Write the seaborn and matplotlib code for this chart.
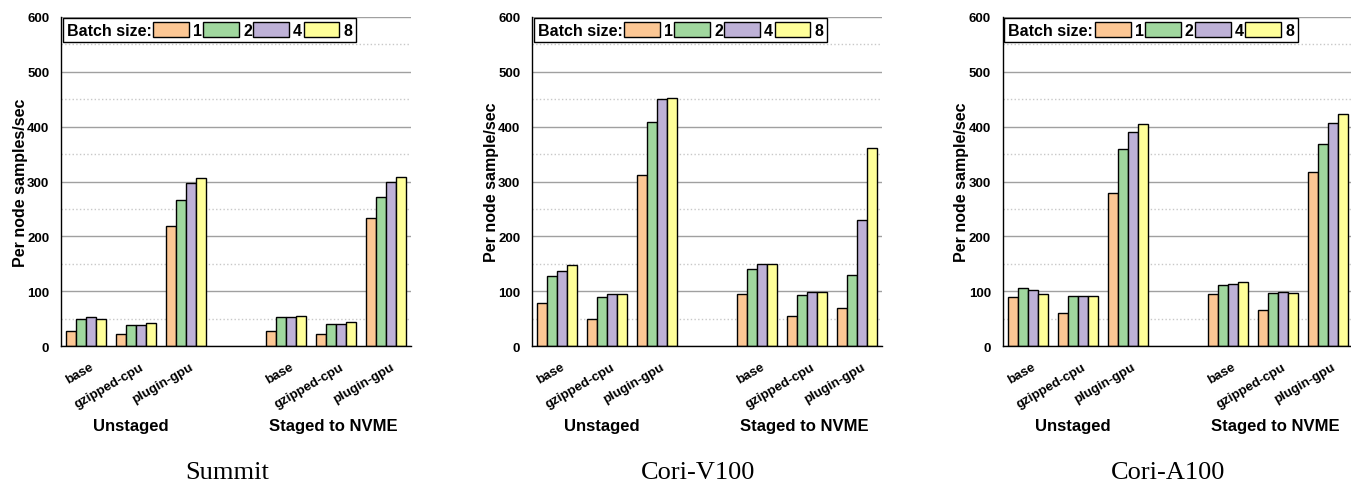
import numpy as np
import pandas as pd
import matplotlib
matplotlib.use('Agg')
import matplotlib.pyplot as plt
import seaborn as sns
from matplotlib.patches import Patch
from matplotlib.offsetbox import HPacker
from matplotlib.transforms import ScaledTranslation, blended_transform_factory
from matplotlib.ticker import MultipleLocator, FixedLocator

# ---------------- data ----------------
systems = ['Summit', 'Cori-V100', 'Cori-A100']
ylabels = ['Per node samples/sec', 'Per node sample/sec', 'Per node sample/sec']
methods = ['base', 'gzipped-cpu', 'plugin-gpu']
stagings = ['Unstaged', 'Staged to NVME']
batch_sizes = ['1', '2', '4', '8']
colors = ['#FCC794', '#A0D79E', '#BEB1D7', '#FFFF99']

# rows: method (base, gzipped-cpu, plugin-gpu); columns: batch size 1,2,4,8
summit_unstaged = [[27, 50, 52, 50], [21, 39, 39, 42], [219, 267, 297, 306]]
summit_staged = [[28, 52, 53, 54], [21, 40, 41, 43], [233, 272, 299, 308]]
v100_unstaged = [[78, 128, 137, 148], [50, 89, 94, 95], [311, 409, 450, 452]]
v100_staged = [[94, 140, 150, 150], [55, 93, 98, 99], [69, 129, 230, 362]]
a100_unstaged = [[90, 105, 103, 94], [61, 91, 91, 92], [279, 360, 390, 405]]
a100_staged = [[94, 112, 113, 116], [65, 96, 98, 97], [317, 369, 407, 424]]

panel_data = [
    (summit_unstaged, summit_staged),
    (v100_unstaged, v100_staged),
    (a100_unstaged, a100_staged),
]

# ---------------- style ----------------
sns.set_theme(style='white')
plt.rcParams['font.family'] = ['Liberation Sans', 'DejaVu Sans']
plt.rcParams['axes.linewidth'] = 1.0
for k in ('text.color', 'axes.labelcolor', 'xtick.color', 'ytick.color'):
    plt.rcParams[k] = 'black'

W, H = 1351, 485
fig = plt.figure(figsize=(W / 100, H / 100), dpi=100)

ax_lefts = [61, 532, 1002.7]
ax_width = 350.3
ax_bottom_px, ax_top_px = 347, 18
sub_x = [227, 698, 1168]

gap_slot = 'gap'
order = [f'{stagings[0]}|{m}' for m in methods] + [gap_slot] + [f'{stagings[1]}|{m}' for m in methods]
tick_labels = methods + [''] + methods

for i, (sysname, (unst, stg)) in enumerate(zip(systems, panel_data)):
    ax = fig.add_axes([ax_lefts[i] / W, (H - ax_bottom_px) / H, ax_width / W,
                       (ax_bottom_px - ax_top_px) / H])
    rows = []
    for staging, vals in zip(stagings, (unst, stg)):
        for m, mvals in zip(methods, vals):
            for b, v in zip(batch_sizes, mvals):
                rows.append({'slot': f'{staging}|{m}', 'batch': b, 'value': v})
    df = pd.DataFrame(rows)

    sns.barplot(data=df, x='slot', y='value', hue='batch', order=order,
                hue_order=batch_sizes, palette=colors, saturation=1,
                edgecolor='black', linewidth=1.0, width=0.8, ax=ax,
                legend=False, errorbar=None)

    ax.set_xlim(-0.5, 6.5)
    ax.set_ylim(0, 600)
    ax.yaxis.set_major_locator(MultipleLocator(100))
    ax.yaxis.set_minor_locator(MultipleLocator(50))
    ax.xaxis.set_major_locator(FixedLocator(range(7)))
    ax.xaxis.set_minor_locator(FixedLocator([k - 0.5 for k in range(8)]))

    ax.grid(which='major', axis='y', color='#A0A0A0', lw=1.0, ls='-')
    ax.grid(which='minor', axis='y', color='#C8C8C8', lw=1.0, ls=':')
    ax.grid(which='both', axis='x', visible=False)
    ax.set_axisbelow(True)

    for s in ('top', 'right'):
        ax.spines[s].set_visible(False)
    for s in ('left', 'bottom'):
        ax.spines[s].set_color('black')
        ax.spines[s].set_linewidth(1.0)

    ax.tick_params(axis='both', which='major', direction='out', length=4.5,
                   width=1, color='black')
    ax.tick_params(axis='both', which='minor', direction='out', length=2.5,
                   width=1, color='black')
    ax.tick_params(axis='y', which='major', labelsize=9.5, pad=4)
    ax.tick_params(axis='x', which='major', pad=6)

    for lab in ax.get_yticklabels():
        lab.set_fontweight('bold')

    ax.set_xticks(range(7))
    ax.set_xticklabels(tick_labels, rotation=30, ha='right', va='top',
                       rotation_mode='anchor', fontsize=9.5, fontweight='bold')
    for lab in ax.get_xticklabels():
        lab.set_transform(lab.get_transform() + ScaledTranslation(0.035, 0, fig.dpi_scale_trans))

    ax.set_xlabel('')
    ax.set_ylabel(ylabels[i], fontsize=11.5, fontweight='bold', labelpad=-0.5)

    trans = blended_transform_factory(ax.transData, ax.transAxes)
    gy = (ax_bottom_px - 426) / (ax_bottom_px - ax_top_px)
    ax.text(0.9, gy, stagings[0], transform=trans, ha='center', va='center',
            fontsize=12, fontweight='bold')
    ax.text(4.95, gy, stagings[1], transform=trans, ha='center', va='center',
            fontsize=12, fontweight='bold')

    handles = [Patch(facecolor=c, edgecolor='black', linewidth=1.0) for c in colors]
    leg = ax.legend(handles, batch_sizes, title='Batch size:', ncol=4,
                    loc='upper left', bbox_to_anchor=(0.005, 0.997),
                    borderaxespad=0, frameon=True, fancybox=False,
                    edgecolor='black', framealpha=1,
                    prop=dict(weight='bold', size=11.5),
                    title_fontproperties=dict(weight='bold', size=11.5),
                    handlelength=2.25, handleheight=1.1, handletextpad=0.25,
                    columnspacing=0.08, borderpad=0.25)
    leg.get_frame().set_linewidth(1.0)
    # put the title to the left of the entries
    old = leg._legend_box
    title_box, handle_box = old.get_children()
    new = HPacker(pad=old.pad, sep=1, align='center', children=[title_box, handle_box])
    new.set_figure(fig)
    new.axes = ax
    leg._legend_box = new
    new.set_offset(leg._findoffset)

    fig.text(sub_x[i] / W, 1 - 473 / H, sysname, ha='center', va='center',
             fontsize=19, family=['Liberation Serif', 'DejaVu Serif'])

fig.savefig('out.png', dpi=100)
